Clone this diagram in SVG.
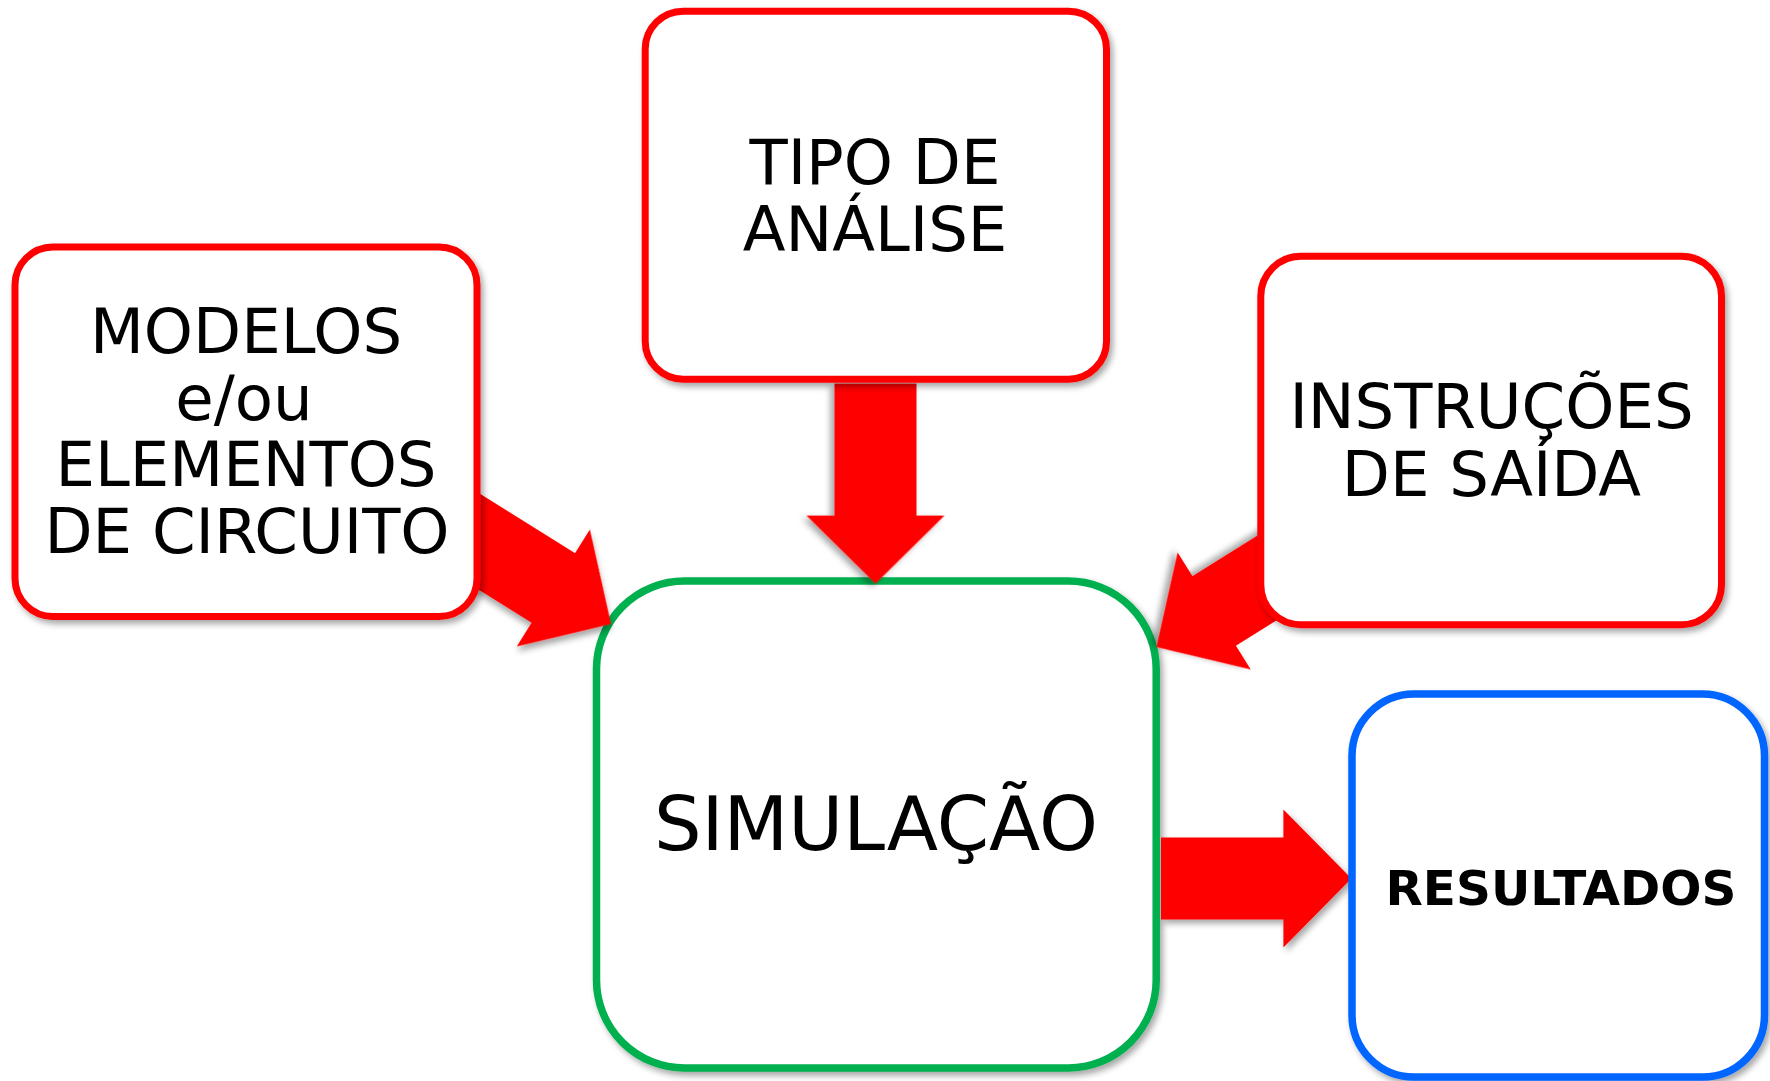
<svg xmlns="http://www.w3.org/2000/svg" width="1770" height="1081" viewBox="0 0 1770 1081">
  <defs>
    <filter id="sh" x="-10%" y="-10%" width="125%" height="125%">
      <feDropShadow dx="3" dy="4" stdDeviation="3" flood-color="#000" flood-opacity="0.35"/>
    </filter>
    <polygon id="arw" points="0,0 -68,-69 -68,-41 -200,-41 -200,41 -68,41 -68,69"/>
  </defs>
  <style>
    .box { fill: #ffffff; stroke-width: 7; filter: url(#sh); }
    .red { stroke: #FF0000; }
    .green { stroke: #00B050; stroke-width: 7.5; }
    .blue { stroke: #0066FF; stroke-width: 7.5; }
    .lbl { font-family: "DejaVu Sans", Verdana, sans-serif; font-size: 62.5px; fill: #000; text-anchor: middle; }
    .big { font-size: 75px; }
    .bold { font-weight: bold; font-size: 48.5px; }
    .arrow { fill: #FF0000; filter: url(#sh); }
  </style>
  <rect width="1770" height="1081" fill="#ffffff"/>

  <g id="simulacao">
    <rect class="box green" x="596.5" y="581" width="559.7" height="487" rx="88" ry="88"/>
    <text class="lbl big" x="876" y="850">SIMULAÇÃO</text>
  </g>

  <g id="connectors">
    <use href="#arw" class="arrow" transform="translate(875.5,583.6) rotate(90)"/>
    <polygon class="arrow" points="1351.4,878.5 1283.4,809.5 1283.4,837.5 1161,837.5 1161,919.5 1283.4,919.5 1283.4,947.5"/>
    <use href="#arw" class="arrow" transform="translate(611,624) rotate(32)"/>
    <use href="#arw" class="arrow" transform="translate(1156.5,647) rotate(148)"/>
  </g>

  <g id="resultados">
    <rect class="box blue" x="1352" y="694" width="412.5" height="383" rx="62" ry="62"/>
    <text class="lbl bold" x="1561" y="904.5">RESULTADOS</text>
  </g>

  <g id="modelos">
    <rect class="box red" x="15" y="247" width="462" height="369.5" rx="38" ry="38"/>
    <text class="lbl" x="246" y="352.7">MODELOS</text>
    <text class="lbl" x="244" y="419.5">e/ou</text>
    <text class="lbl" x="246" y="486.4">ELEMENTOS</text>
    <text class="lbl" x="247" y="553.3">DE CIRCUITO</text>
  </g>

  <g id="tipo">
    <rect class="box red" x="645.2" y="11.2" width="461.3" height="368" rx="38" ry="38"/>
    <text class="lbl" x="875" y="183.7">TIPO DE</text>
    <text class="lbl" x="875" y="250.7">ANÁLISE</text>
  </g>

  <g id="instrucoes">
    <rect class="box red" x="1260.8" y="256.2" width="460.7" height="368.6" rx="40" ry="40"/>
    <text class="lbl" x="1491.5" y="428.3">INSTRUÇÕES</text>
    <text class="lbl" x="1491.5" y="496">DE SAÍDA</text>
  </g>
</svg>
